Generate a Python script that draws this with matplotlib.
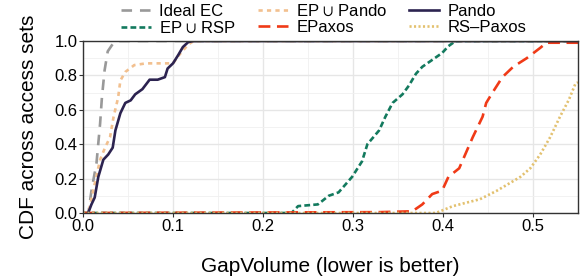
import matplotlib
matplotlib.use("Agg")
from matplotlib import pyplot as plt

plt.rcParams['font.family'] = ['Liberation Sans', 'DejaVu Sans']
plt.rcParams['mathtext.fontset'] = 'stixsans'

# curvas leidas a ojo del grafico
ideal_x = [0.0, 0.006, 0.0094, 0.015, 0.019, 0.021, 0.024, 0.0275, 0.034, 0.04, 0.55]
ideal_y = [0.0, 0.0, 0.13, 0.29, 0.52, 0.67, 0.83, 0.94, 0.99, 1.0, 1.0]

eppando_x = [0.0, 0.006, 0.013, 0.019, 0.0245, 0.030, 0.034, 0.039, 0.0415, 0.047, 0.057, 0.070,
             0.085, 0.100, 0.107, 0.117, 0.123, 0.55]
eppando_y = [0.0, 0.0, 0.17, 0.31, 0.38, 0.44, 0.56, 0.67, 0.77, 0.82, 0.86, 0.87,
             0.87, 0.87, 0.92, 0.98, 1.0, 1.0]

pando_x = [0.0057, 0.0094, 0.013, 0.017, 0.0226, 0.028, 0.033, 0.036, 0.0415, 0.047, 0.053, 0.058,
           0.066, 0.074, 0.083, 0.091, 0.094, 0.100, 0.106, 0.111, 0.117, 0.123, 0.55]
pando_y = [0.0, 0.05, 0.09, 0.21, 0.31, 0.34, 0.38, 0.48, 0.58, 0.64, 0.655, 0.69,
           0.72, 0.775, 0.775, 0.79, 0.84, 0.87, 0.92, 0.965, 0.994, 1.0, 1.0]

eprsp_x = [0.0, 0.2317, 0.239, 0.261, 0.273, 0.284, 0.299, 0.310, 0.316, 0.329, 0.336, 0.344,
           0.355, 0.362, 0.370, 0.377, 0.388, 0.399, 0.406, 0.414, 0.55]
eprsp_y = [0.0, 0.0, 0.04, 0.05, 0.10, 0.12, 0.21, 0.30, 0.40, 0.48, 0.56, 0.64,
           0.69, 0.74, 0.81, 0.85, 0.89, 0.93, 0.97, 1.0, 1.0]

epaxos_x = [0.0, 0.33, 0.366, 0.377, 0.388, 0.399, 0.406, 0.418, 0.423, 0.433, 0.444, 0.448,
            0.455, 0.466, 0.478, 0.493, 0.508, 0.515, 0.55]
epaxos_y = [0.0, 0.005, 0.01, 0.05, 0.11, 0.13, 0.21, 0.26, 0.32, 0.44, 0.56, 0.64,
            0.70, 0.79, 0.85, 0.90, 0.96, 0.99, 0.99]

rspaxos_x = [0.0, 0.392, 0.411, 0.441, 0.460, 0.486, 0.497, 0.508, 0.519, 0.530, 0.540, 0.547, 0.55]
rspaxos_y = [0.0, 0.0, 0.04, 0.08, 0.13, 0.21, 0.26, 0.34, 0.44, 0.56, 0.66, 0.75, 0.76]

x_ticks = [0.0, 0.1, 0.2, 0.3, 0.4, 0.5]
y_ticks = [0.0, 0.2, 0.4, 0.6, 0.8, 1.0]

fig = plt.figure(figsize=(5.8, 2.78), dpi=100)
ax = fig.add_axes([83/580, 1 - 213/278, 495/580, 172/278])

lw = 1.9
ax.plot(ideal_x, ideal_y, color='#999999', lw=lw, dashes=(4, 3), label='Ideal EC')
ax.plot(eprsp_x, eprsp_y, color='#137a5e', lw=lw, dashes=(2.2, 1.2), label=r'EP$\,\cup\,$RSP')
ax.plot(eppando_x, eppando_y, color='#f2c08f', lw=lw, dashes=(1.6, 1.6), label=r'EP$\,\cup\,$Pando')
ax.plot(epaxos_x, epaxos_y, color='#f03a17', lw=lw, dashes=(4.5, 2.5), label='EPaxos')
ax.plot(pando_x, pando_y, color='#2c2350', lw=lw, label='Pando')
ax.plot(rspaxos_x, rspaxos_y, color='#e3c16f', lw=lw, dashes=(0.8, 0.9), label='RS\u2013Paxos')

ax.set_xlim(0, 0.55)
ax.set_ylim(0, 1.0)
ax.set_xticks(x_ticks)
ax.set_xticklabels([f'{v:.1f}' for v in x_ticks])
ax.set_xticks([0.05, 0.15, 0.25, 0.35, 0.45], minor=True)
ax.set_yticks(y_ticks)
ax.set_yticklabels([f'{v:.1f}' for v in y_ticks])
ax.set_yticks([0.1, 0.3, 0.5, 0.7, 0.9], minor=True)
ax.grid(True, which='major', color='#e6e6e6', lw=1.0)
ax.grid(True, which='minor', color='#f0f0f0', lw=0.6)
ax.set_axisbelow(True)
for s in ax.spines.values():
    s.set_color('#333333')
    s.set_linewidth(1.0)
ax.tick_params(which='major', length=3, color='#333333', labelsize=12, pad=1)
ax.tick_params(which='minor', length=0)

ax.set_xlabel('GapVolume (lower is better)', fontsize=15, labelpad=17)
ax.set_ylabel('CDF across access sets', fontsize=15, labelpad=12)

fig.legend(loc='upper left', bbox_to_anchor=(109/580, 1.03), ncol=3, frameon=False,
           fontsize=12, handlelength=1.85, columnspacing=1.26, labelspacing=0.1,
           handletextpad=0.48, borderpad=0.2)

fig.savefig('out.png', dpi=100)
